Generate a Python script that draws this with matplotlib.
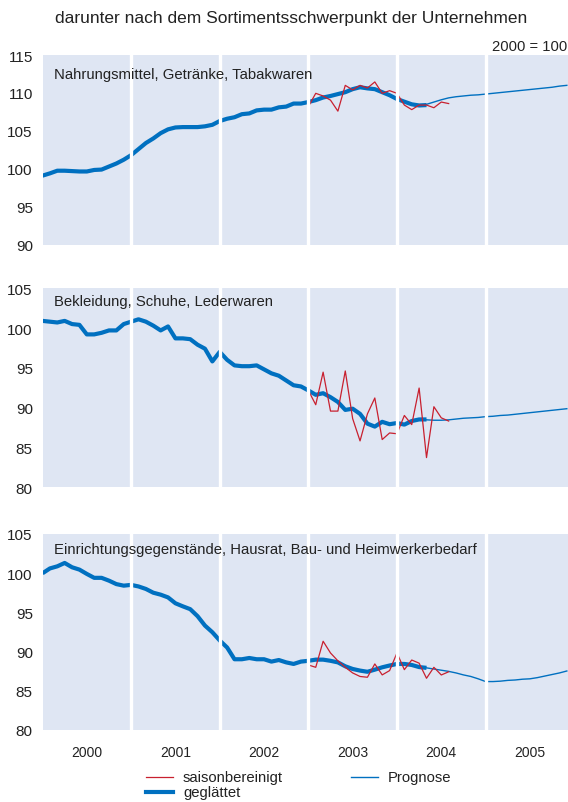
import matplotlib
matplotlib.use("Agg")
import matplotlib.pyplot as plt
from matplotlib.lines import Line2D
import numpy as np

plt.rcParams['font.family'] = ['Liberation Sans', 'DejaVu Sans']

# Monatswerte ab Januar 2000 (Index 2000 = 100)
titles = [
    "Nahrungsmittel, Getränke, Tabakwaren",
    "Bekleidung, Schuhe, Lederwaren",
    "Einrichtungsgegenstände, Hausrat, Bau- und Heimwerkerbedarf",
]

# geglättet, Jan 2000 - Mai 2004
smooth_food = [99.1, 99.4, 99.75, 99.75, 99.7, 99.65, 99.65, 99.85, 99.9, 100.3,
               100.7, 101.2, 101.8, 102.6, 103.4, 104.0, 104.7, 105.2, 105.45, 105.5,
               105.5, 105.5, 105.6, 105.8, 106.3, 106.6, 106.8, 107.2, 107.3, 107.7,
               107.8, 107.8, 108.1, 108.2, 108.6, 108.6, 108.8, 109.05, 109.4, 109.6,
               109.85, 110.1, 110.5, 110.75, 110.6, 110.5, 110.1, 109.7, 109.2, 108.85,
               108.5, 108.35, 108.4]
smooth_cloth = [100.9, 100.8, 100.7, 100.9, 100.5, 100.4, 99.2, 99.2, 99.4, 99.7,
                99.7, 100.5, 100.8, 101.1, 100.8, 100.3, 99.7, 100.2, 98.7, 98.7,
                98.6, 97.9, 97.4, 95.8, 97.0, 96.0, 95.3, 95.2, 95.2, 95.3,
                94.8, 94.3, 94.0, 93.4, 92.8, 92.65, 92.15, 91.6, 91.8, 91.3,
                90.7, 89.7, 89.85, 89.2, 87.97, 87.6, 88.2, 87.9, 88.05, 87.85,
                88.3, 88.5, 88.5]
smooth_home = [99.98, 100.6, 100.87, 101.3, 100.75, 100.45, 99.9, 99.4, 99.4, 99.04,
               98.6, 98.4, 98.5, 98.3, 97.98, 97.5, 97.25, 96.9, 96.15, 95.76,
               95.4, 94.5, 93.3, 92.45, 91.4, 90.5, 89.0, 89.0, 89.16, 89.0,
               89.0, 88.7, 88.9, 88.6, 88.4, 88.7, 88.8, 88.95, 88.95, 88.8,
               88.6, 88.1, 87.76, 87.55, 87.4, 87.67, 87.97, 88.2, 88.4, 88.4,
               88.27, 88.0, 87.9]

# saisonbereinigt, Jan 2003 - Aug 2004
sa_food = [108.2, 109.95, 109.6, 109.05, 107.6, 111.0, 110.4, 111.0, 110.65, 111.45,
           109.95, 110.3, 109.95, 108.4, 107.8, 108.4, 108.4, 108.05, 108.8, 108.6]
sa_cloth = [92.15, 90.35, 94.45, 89.55, 89.55, 94.6, 88.6, 85.8, 89.2, 91.2,
            85.97, 86.8, 86.7, 89.0, 87.85, 92.45, 83.7, 90.1, 88.7, 88.3]
sa_home = [88.27, 87.97, 91.3, 89.8, 88.8, 87.97, 87.25, 86.8, 86.7, 88.4,
           87.0, 87.55, 89.8, 87.67, 88.9, 88.5, 86.57, 87.97, 86.99, 87.4]

# Prognose, Apr 2004 - Dez 2005
fc_food = [108.35, 108.5, 108.8, 109.1, 109.35, 109.5, 109.6, 109.7, 109.75, 109.85,
           109.95, 110.05, 110.15, 110.25, 110.35, 110.45, 110.55, 110.65, 110.75, 110.9,
           111.0]
fc_cloth = [88.5, 88.45, 88.4, 88.4, 88.45, 88.55, 88.65, 88.7, 88.75, 88.85,
            88.9, 89.0, 89.05, 89.15, 89.25, 89.35, 89.45, 89.55, 89.65, 89.75,
            89.85]
fc_home = [88.0, 87.9, 87.75, 87.6, 87.45, 87.25, 87.0, 86.8, 86.5, 86.15,
           86.15, 86.2, 86.3, 86.35, 86.45, 86.5, 86.65, 86.85, 87.05, 87.25,
           87.5]

ylims = [(90, 115), (80, 105), (80, 105)]
years = [2000, 2001, 2002, 2003, 2004, 2005]

sa_start = 36
fc_start = 51

blue = "#0070c0"
red = "#c8202f"
bg = "#dfe6f3"
txt = "#222222"

fig = plt.figure(figsize=(5.68, 8.03), dpi=100)
W, H = 568, 803

# Achsenpositionen in Pixel (oben, unten)
panels = [(56, 245.7), (289.3, 488), (535, 730.7)]
label_off = [19, 13, 15]

series = [
    (smooth_food, sa_food, fc_food),
    (smooth_cloth, sa_cloth, fc_cloth),
    (smooth_home, sa_home, fc_home),
]

for k, (top, bot) in enumerate(panels):
    ax = fig.add_axes([42.5 / W, 1 - bot / H, 525.5 / W, (bot - top) / H])
    ax.set_facecolor(bg)
    for s in ax.spines.values():
        s.set_visible(False)

    sm, sa, fc = series[k]
    x_sm = 2000 + np.arange(len(sm)) / 12
    x_sa = 2000 + (sa_start + np.arange(len(sa))) / 12
    x_fc = 2000 + (fc_start + np.arange(len(fc))) / 12

    ax.plot(x_fc, fc, color=blue, lw=1.0, zorder=2)
    ax.plot(x_sm, sm, color=blue, lw=3.0, zorder=3, solid_capstyle='butt')
    ax.plot(x_sa, sa, color=red, lw=0.9, zorder=4)

    for yr in years[1:]:
        ax.axvline(yr, color="white", lw=2.4, zorder=5)

    ax.set_xlim(2000, 2005.93)
    ax.set_ylim(*ylims[k])
    ax.set_yticks(np.arange(ylims[k][0], ylims[k][1] + 1, 5))
    ax.tick_params(axis='y', length=0, pad=7, labelsize=11, colors=txt)
    if k == 2:
        ax.set_xticks([y + 0.5 for y in years])
        ax.set_xticklabels([str(y) for y in years])
        ax.tick_params(axis='x', length=0, pad=11, labelsize=10, colors=txt)
    else:
        ax.set_xticks([])

    ax.text((53.5 - 42.5) / 525.5, 1 - label_off[k] / (bot - top), titles[k],
            transform=ax.transAxes, fontsize=10.7, color=txt,
            va='center', ha='left', zorder=6)

fig.text(55 / W, 1 - 18 / H, "darunter nach dem Sortimentsschwerpunkt der Unternehmen",
         fontsize=12.5, color=txt, va='center', ha='left')
fig.text(567 / W, 1 - 46.7 / H, "2000 = 100", fontsize=10.6, color=txt,
         va='center', ha='right')

# Legende
legend_items = [
    ("saisonbereinigt", red, 0.9, 146, 778),
    ("geglättet", blue, 3.0, 146, 793),
    ("Prognose", blue, 1.0, 351, 778),
]
for label, col, lw, x0, y0 in legend_items:
    fig.add_artist(Line2D([x0 / W, (x0 + 27) / W], [1 - y0 / H, 1 - y0 / H],
                          color=col, lw=lw, transform=fig.transFigure))
    fig.text((x0 + 37) / W, 1 - y0 / H, label, fontsize=10.7, color=txt,
             va='center', ha='left')

fig.savefig("out.png", dpi=100)
